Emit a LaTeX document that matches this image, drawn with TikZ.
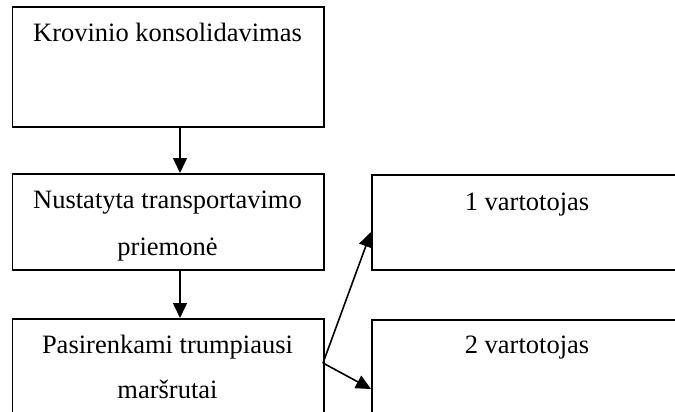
\documentclass[tikz,border=0pt]{standalone}
\usepackage{fontspec}
\setmainfont{Liberation Serif}
\usetikzlibrary{arrows.meta}
\begin{document}
\begin{tikzpicture}[x=1pt,y=-1pt,
  box/.style={draw,line width=1.8pt,inner sep=0pt,anchor=north west},
  lbl/.style={anchor=base,inner sep=0pt,font=\fontsize{26.5}{32}\selectfont},
  arr/.style={line width=1.6pt,-{Triangle[length=15pt,width=14pt]}}]
\useasboundingbox (0,0) rectangle (675,412);
\clip (0,0) rectangle (675,412);
% boxes
\node[box,minimum width=311.5pt,minimum height=120pt] (b1) at (11.5,6) {};
\node[box,minimum width=311.5pt,minimum height=96pt] (b2) at (11.5,173) {};
\node[box,minimum width=311.5pt,minimum height=120pt] (b3) at (11.5,318) {};
\node[box,minimum width=320pt,minimum height=95pt] (b4) at (371,174) {};
\node[box,minimum width=320pt,minimum height=120pt] (b5) at (371,319) {};
% texts
\node[lbl] (t1) at (167.5,42) {Krovinio konsolidavimas};
\node[lbl] (t2a) at (167.5,208) {Nustatyta transportavimo};
\node[lbl] (t2b) at (167.5,255) {priemonė};
\node[lbl] (t3a) at (167.5,353) {Pasirenkami trumpiausi};
\node[lbl] (t3b) at (167.5,398) {maršrutai};
\node[lbl] (t4) at (527,210) {1 vartotojas};
\node[lbl] (t5) at (527,353) {2 vartotojas};
% connectors
\coordinate (c1) at (180,126);
\coordinate (c2) at (180,269);
\coordinate (fork) at (323,363);
\coordinate (in4) at (371,232);
\coordinate (in5) at (371,389);
\draw[arr] (c1) -- (c1 |- b2.north);
\draw[arr] (c2) -- (c2 |- b3.north);
\draw[arr] (fork) -- (in4);
\draw[arr] (fork) -- (in5);
\end{tikzpicture}
\end{document}
